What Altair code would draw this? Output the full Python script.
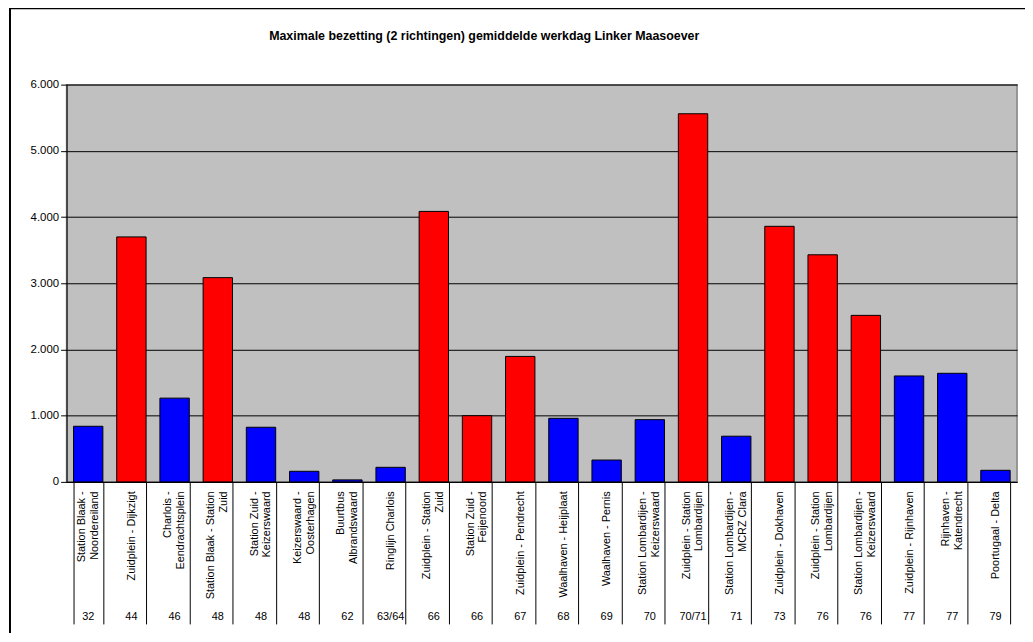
import altair as alt
import pandas as pd

# Line numbers (bottom row)
lijnen = ["32", "44", "46", "48", "48", "48", "62", "63/64", "66", "66", "67",
          "68", "69", "70", "70/71", "71", "73", "76", "76", "77", "77", "79"]

# Route names, split in the lines as they are wrapped in the chart
trajecten = [
    ["Station Blaak -", "Noordereiland"],
    ["Zuidplein - Dijkzigt"],
    ["Charlois -", "Eendrachtsplein"],
    ["Station Blaak - Station", "Zuid"],
    ["Station Zuid -", "Keizerswaard"],
    ["Keizerswaard -", "Oosterhagen"],
    ["Buurtbus", "Albrandswaard"],
    ["Ringlijn Charlois"],
    ["Zuidplein - Station", "Zuid"],
    ["Station Zuid -", "Feijenoord"],
    ["Zuidplein - Pendrecht"],
    ["Waalhaven - Heijplaat"],
    ["Waalhaven - Pernis"],
    ["Station Lombardijen -", "Keizerswaard"],
    ["Zuidplein - Station", "Lombardijen"],
    ["Station Lombardijen -", "MCRZ Clara"],
    ["Zuidplein - Dokhaven"],
    ["Zuidplein - Station", "Lombardijen"],
    ["Station Lombardijen -", "Keizerswaard"],
    ["Zuidplein - Rijnhaven"],
    ["Rijnhaven -", "Katendrecht"],
    ["Poortugaal - Delta"],
]

# Maximum occupancy
bezetting = [840, 3700, 1265, 3085, 825, 160, 30, 220, 4085, 1000, 1895,
             960, 330, 940, 5560, 690, 3860, 3430, 2515, 1600, 1640, 175]

groep = ["blauw", "rood", "blauw", "rood", "blauw", "blauw", "blauw", "blauw",
         "rood", "rood", "rood", "blauw", "blauw", "blauw", "rood", "blauw",
         "rood", "rood", "rood", "blauw", "blauw", "blauw"]

y_ticks = [0, 1000, 2000, 3000, 4000, 5000, 6000]

keys = ["~".join(t) + "|" + l for t, l in zip(trajecten, lijnen)]
df = pd.DataFrame({"key": keys, "waarde": bezetting, "groep": groep})

FONT = "Liberation Sans"

xscale = alt.Scale(domain=keys, paddingInner=0.32, paddingOuter=0.16)

axis_names = alt.Axis(
    orient="bottom", title=None,
    labelExpr="datum.value ? split(split(datum.value, '|')[0], '~') : ''",
    labelAngle=270, labelAlign="right", labelBaseline="middle",
    labelOffset={"condition": {"test": "datum.value && indexof(datum.value, '~') >= 0",
                               "value": -7},
                 "value": 0},
    labelFont=FONT, labelFontSize=11, labelColor="black", labelLineHeight=13,
    labelPadding=-134, labelOverlap=False, labelFlush=False, labelLimit=300,
    tickSize=143, tickColor="black", tickWidth=1, tickBand="extent",
    domainColor="black", domainWidth=1, grid=False,
)

axis_nums = alt.Axis(
    orient="bottom", title=None,
    labelExpr="split(datum.value, '|')[1]",
    labelAngle=0, labelAlign="center", labelBaseline="alphabetic",
    labelFont=FONT, labelFontSize=11, labelColor="black",
    labelPadding=139, labelOverlap=False, labelFlush=False,
    ticks=False, domain=False, grid=False,
)

yaxis = alt.Axis(
    title=None, values=y_ticks,
    labelExpr="replace(format(datum.value, ','), ',', '.')",
    labelFont=FONT, labelFontSize=11.5, labelColor="black", labelPadding=2,
    tickSize=6, tickColor="black", domainColor="black",
    grid=True, gridColor="black", gridWidth=1,
)

bars = alt.Chart(df).mark_bar(stroke="black", strokeWidth=1).encode(
    x=alt.X("key:N", scale=xscale, axis=axis_names),
    y=alt.Y("waarde:Q", scale=alt.Scale(domain=[0, 6000], nice=False), axis=yaxis),
    color=alt.Color("groep:N",
                    scale=alt.Scale(domain=["rood", "blauw"], range=["#FF0000", "#0000FF"]),
                    legend=None),
)

nums = alt.Chart(df).mark_bar(opacity=0).encode(
    x=alt.X("key:N", scale=xscale, axis=axis_nums),
)

frame = alt.Chart(pd.DataFrame({"f": [0]})).mark_rect(
    filled=False, stroke="black", strokeWidth=2
).encode(
    x=alt.value(-57), x2=alt.value(1100), y=alt.value(-77), y2=alt.value(700)
)

chart = alt.layer(bars, nums, frame).resolve_axis(x="independent").properties(
    width=957, height=400,
    autosize=alt.AutoSizeParams(type="none"),
    padding={"left": 59, "top": 75, "right": 8, "bottom": 150},
    title=alt.TitleParams(
        "Maximale bezetting (2 richtingen) gemiddelde werkdag Linker Maasoever",
        font=FONT, fontSize=12.5, fontWeight="bold", color="black",
        anchor="middle", frame="group", dx=-58, offset=-46, baseline="alphabetic",
    ),
    background="white",
).configure_view(
    fill="#C0C0C0", stroke="#808080", strokeWidth=1.5
)

chart.save("out.html", embed_options={"renderer": "svg", "actions": False})
